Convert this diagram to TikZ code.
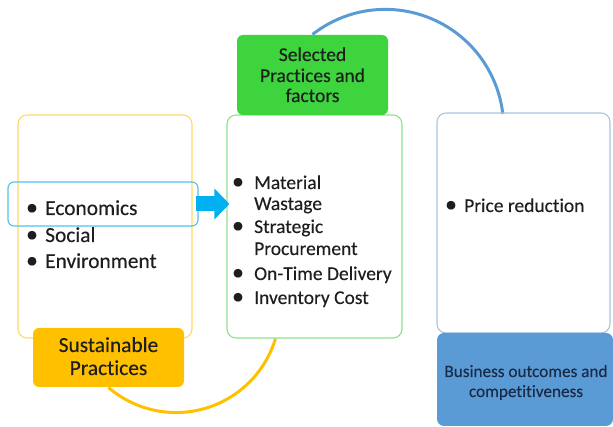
\documentclass[tikz,border=0pt]{standalone}
\usepackage{fontspec}
\setmainfont{Carlito}[Ligatures=NoCommon, FakeBold=0.25]
\usetikzlibrary{arrows.meta,backgrounds}
\definecolor{ybord}{HTML}{FFD966}
\definecolor{sustc}{HTML}{FFC000}
\definecolor{yarc}{HTML}{FFC000}
\definecolor{hlc}{HTML}{4FC1E9}
\definecolor{arrc}{HTML}{00B0F0}
\definecolor{gbord}{HTML}{8EE08E}
\definecolor{selc}{HTML}{3DD43D}
\definecolor{barc}{HTML}{5B9BD5}
\definecolor{rbord}{HTML}{A7C4E0}
\definecolor{busc}{HTML}{5B9BD5}
\definecolor{txtc}{HTML}{1E1E1E}
\definecolor{bustxt}{HTML}{1A2B48}
\tikzset{
  box/.style={draw, rounded corners=9pt, line width=1.1pt, inner sep=0, anchor=center},
  lab/.style={font=\fontsize{19.5}{24}\selectfont, text=txtc, inner sep=0},
  big/.style={font=\fontsize{21.4}{26}\selectfont},
  blt/.style={lab, anchor=base, font=\fontsize{24}{26}\selectfont},
  itm/.style={lab, anchor=base west},
  ctr/.style={lab, anchor=base},
  arcline/.style={line width=3pt}
}
\begin{document}
\begin{tikzpicture}[x=1pt,y=1pt]
\useasboundingbox (0,0) rectangle (613,427);
% boxes
\node[box, draw=ybord, minimum width=174pt, minimum height=223pt] (ybox) at (105,200.5) {};
\node[box, draw=gbord, minimum width=175pt, minimum height=223pt] (gbox) at (314.5,200.5) {};
\node[box, draw=rbord, minimum width=173pt, minimum height=220pt] (rbox) at (523.5,204) {};
\node[box, draw=none, fill=selc, rounded corners=6pt, minimum width=151pt, minimum height=80pt] (sel) at (312.5,352) {};
\node[box, draw=none, fill=sustc, rounded corners=6pt, minimum width=151pt, minimum height=59pt] (sust) at (108.5,69.5) {};
\node[box, draw=none, fill=busc, rounded corners=7pt, minimum width=176pt, minimum height=93pt] (bus) at (525,47.5) {};
\node[box, draw=hlc, rounded corners=6pt, minimum width=190pt, minimum height=44pt] (hl) at (103,223) {};
% arcs
\begin{scope}[on background layer]
\draw[arcline, draw=barc] (sel.north) arc[start angle=128, end angle=6.6, radius=118.3pt];
\draw[arcline, draw=yarc] (sust.south) arc[start angle=229.4, end angle=343.3, radius=103.8pt];
\end{scope}
% arrow
\draw[line width=15pt, draw=arrc, -{Triangle[length=15pt,width=30pt]}] ([xshift=-3pt]hl.east) -- ([xshift=3pt]gbox.west |- hl.east);
% left list
\node[blt] (b1) at (32,212) {\textbullet};
\node[itm, big] (t1) at (45,212) {Economics};
\node[blt] (b2) at (32,185) {\textbullet};
\node[itm, big] (t2) at (45,185) {Social};
\node[blt] (b3) at (32,159) {\textbullet};
\node[itm, big] (t3) at (45,159) {Environment};
% middle list
\node[blt] (m1) at (238,238) {\textbullet};
\node[itm] (n1) at (254,238) {Material};
\node[itm] (n1b) at (254,217) {Wastage};
\node[blt] (m2) at (238,194) {\textbullet};
\node[itm] (n2) at (254,194) {Strategic};
\node[itm] (n2b) at (254,172) {Procurement};
\node[blt] (m3) at (238,147) {\textbullet};
\node[itm] (n3) at (254,147) {On-Time Delivery};
\node[blt] (m4) at (238,123) {\textbullet};
\node[itm] (n4) at (254,123) {Inventory Cost};
% right list
\node[blt] (r1) at (451,215) {\textbullet};
\node[itm] (s1) at (464,215) {Price reduction};
% headers
\node[ctr] (h1) at (312.5,366) {Selected};
\node[ctr] (h2) at (312.5,345) {Practices and};
\node[ctr] (h3) at (312.5,325) {factors};
\node[ctr, big] (u1) at (108.5,75) {Sustainable};
\node[ctr, big] (u2) at (108.5,52) {Practices};
\node[ctr, font=\fontsize{17.2}{20}\selectfont, text=bustxt] (v1) at (526,50) {Business outcomes and};
\node[ctr, font=\fontsize{17.2}{20}\selectfont, text=bustxt] (v2) at (526,30) {competitiveness};
\end{tikzpicture}
\end{document}
